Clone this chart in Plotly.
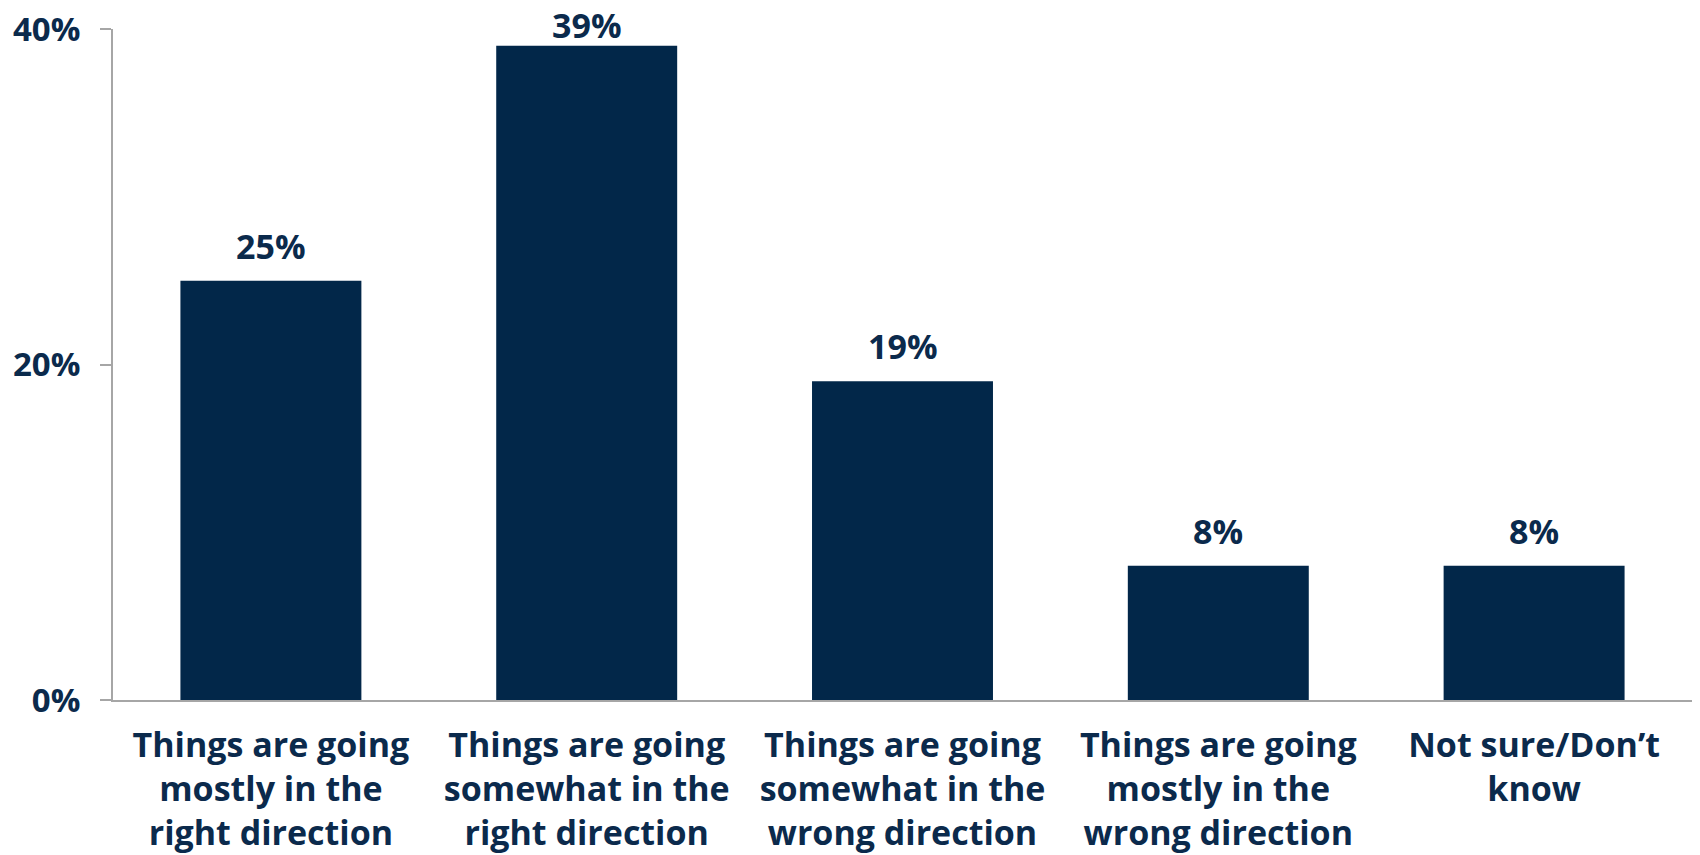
import plotly.graph_objects as go

categories = [
    "Things are going<br>mostly in the<br>right direction",
    "Things are going<br>somewhat in the<br>right direction",
    "Things are going<br>somewhat in the<br>wrong direction",
    "Things are going<br>mostly in the<br>wrong direction",
    "Not sure/Don\u2019t<br>know",
]
values = [25, 39, 19, 8, 8]
tick_vals = [0, 20, 40]
tick_text = ["0%", "20%", "40%"]

# style: pixel offset of each value label above its bar
label_shift = [10, -4, 10, 10, 10]

NAVY = "#022749"
TEXT = "#0B2A4C"
FONT = "Open Sans"

fig = go.Figure()
fig.add_trace(go.Bar(x=categories, y=values, marker=dict(color=NAVY, line=dict(width=0)),
                     hoverinfo="skip"))

for c, v, s in zip(categories, values, label_shift):
    fig.add_annotation(x=c, y=v, text=f"<b>{v}%</b>", showarrow=False, yanchor="bottom",
                       yshift=s, font=dict(family=FONT, size=34, color=TEXT))

fig.update_layout(
    width=1700, height=855,
    margin=dict(l=113, r=8, t=29, b=155, autoexpand=False),
    paper_bgcolor="white", plot_bgcolor="white",
    bargap=0.427,
    showlegend=False,
    font=dict(family=FONT, color=TEXT),
)
fig.update_xaxes(
    showline=True, linecolor="#A6A6A6", linewidth=2, ticks="",
    tickfont=dict(family=FONT, size=34, color=TEXT, weight="bold"),
    ticklabelstandoff=14,
    showgrid=False, automargin=False,
)
fig.update_yaxes(
    range=[0, 40], tickvals=tick_vals, ticktext=tick_text,
    showline=True, linecolor="#A6A6A6", linewidth=2,
    ticks="outside", ticklen=11, tickcolor="#A6A6A6", tickwidth=2,
    tickfont=dict(family=FONT, size=33, color=TEXT, weight="bold"),
    ticklabelstandoff=13,
    showgrid=False, zeroline=False, automargin=False,
)

fig.write_html(
    "out.html",
    config={"displayModeBar": False},
    post_script="document.body.style.margin='0';document.body.style.overflow='hidden';",
)
